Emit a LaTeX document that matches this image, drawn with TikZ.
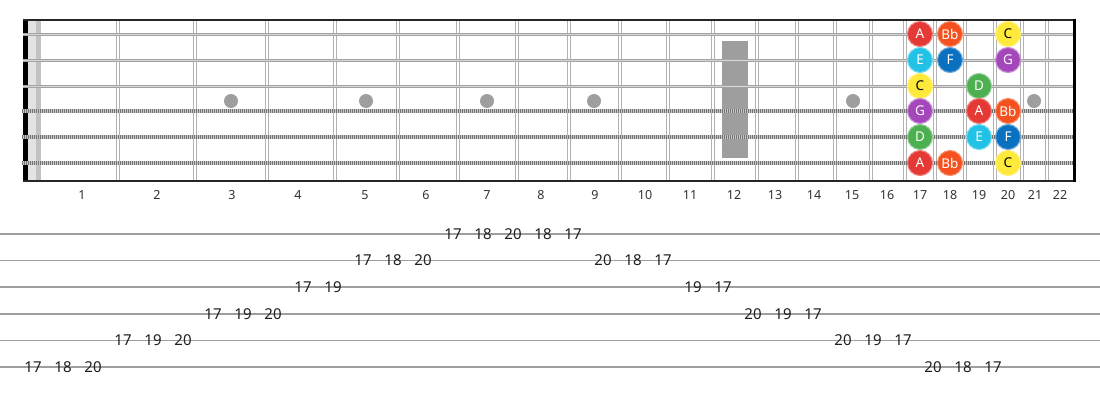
\documentclass[tikz,border=0pt]{standalone}
\usepackage{fontspec}
\setmainfont{Noto Sans}
\definecolor{nA}{HTML}{E53935}
\definecolor{nBb}{HTML}{F4511E}
\definecolor{nC}{HTML}{FFE93B}
\definecolor{nD}{HTML}{4CAF50}
\definecolor{nE}{HTML}{22C1E6}
\definecolor{nF}{HTML}{0A70C0}
\definecolor{nG}{HTML}{A347BA}
\begin{document}
\begin{tikzpicture}[x=1pt,y=-1pt,
  fretw/.style={draw=black!30,line width=1.2pt},
  plainstr/.style={line width=3pt,draw=black!36},
  plaincore/.style={line width=0.8pt,draw=black!16},
  woundbase/.style={line width=4pt,draw=black!22},
  woundtex/.style={line width=4pt,draw=black!55,dash pattern=on 0.9pt off 1.1pt},
  border/.style={line width=2.2pt,draw=black!85},
  inlay/.style={fill=black!38},
  fretlbl/.style={font=\fontsize{12.5}{13}\selectfont,text=black!80,inner sep=0pt},
  note/.style={circle,minimum size=25pt,inner sep=0pt,line width=1.1pt,
    font=\fontsize{13.5}{14}\selectfont,text=white},
  tabline/.style={line width=1.6pt,draw=black!38},
  tabnum/.style={font=\fontsize{15}{15}\selectfont,text=black!88,inner sep=0pt}]
\useasboundingbox (0,0) rectangle (1100,400);
\fill[white] (0,0) rectangle (1100,400);
% nut
\fill[black] (23,19) rectangle (28,181);
\fill[black!11] (28,19) rectangle (36,181);
\fill[black!24] (36,19) rectangle (41,181);
% fret wires
\foreach \x in {118,195,267,335,398,458,517,569,620,668,713,757,797,835,871,905,935,965,995,1022,1047}{
  \draw[fretw] (\x-1.4,20) -- (\x-1.4,180);
  \draw[fretw] (\x+1.4,20) -- (\x+1.4,180);
}
% inlays
\foreach \x in {231,366,487,594,853,1034}{\fill[inlay] (\x,101) circle (7);}
\fill[inlay] (722,41) rectangle (748,158);
% strings
\foreach \y in {34,60,86}{
  \draw[plainstr] (23,\y) -- (1074,\y);
  \draw[plaincore] (23,\y) -- (1074,\y);
}
\foreach \y in {111,137,163}{
  \draw[woundbase] (22,\y) -- (1074,\y);
  \draw[woundtex] (22,\y) -- (1074,\y);
}
% borders
\draw[border] (23,19.8) -- (1075,19.8);
\draw[border] (23,180.6) -- (1075,180.6);
\draw[line width=2.4pt,black] (1074.5,18.7) -- (1074.5,181.7);
% fret numbers
\foreach \n/\x in {1/82,2/157,3/232,4/298,5/365,6/426,7/487,8/541,9/595,10/645,11/690,12/734,13/775,14/814,15/852,16/887,17/920,18/950,19/979,20/1008,21/1035,22/1060}{
  \node[fretlbl] (fl\n) at (\x,195) {\n};
}
% notes
\node[note,fill=nA,draw=nA!65!white] (s1a) at (920,34) {A};
\node[note,fill=nBb,draw=nBb!65!white] (s1b) at (950,34) {Bb};
\node[note,fill=nC,draw=nC!70!white,text=black] (s1c) at (1008,34) {C};
\node[note,fill=nE,draw=nE!60!white] (s2e) at (920,60) {E};
\node[note,fill=nF,draw=nF!60!white] (s2f) at (950,60) {F};
\node[note,fill=nG,draw=nG!60!white] (s2g) at (1008,60) {G};
\node[note,fill=nC,draw=nC!70!white,text=black] (s3c) at (920,86) {C};
\node[note,fill=nD,draw=nD!60!white] (s3d) at (979,86) {D};
\node[note,fill=nG,draw=nG!60!white] (s4g) at (920,111) {G};
\node[note,fill=nA,draw=nA!65!white] (s4a) at (979,111) {A};
\node[note,fill=nBb,draw=nBb!65!white] (s4b) at (1008,111) {Bb};
\node[note,fill=nD,draw=nD!60!white] (s5d) at (920,137) {D};
\node[note,fill=nE,draw=nE!60!white] (s5e) at (979,137) {E};
\node[note,fill=nF,draw=nF!60!white] (s5f) at (1008,137) {F};
\node[note,fill=nA,draw=nA!65!white] (s6a) at (920,163) {A};
\node[note,fill=nBb,draw=nBb!65!white] (s6b) at (950,163) {Bb};
\node[note,fill=nC,draw=nC!70!white,text=black] (s6c) at (1008,163) {C};
% tab lines
\foreach \i in {1,...,6}{
  \draw[tabline] (0,{234+26.6*(\i-1)}) -- (1100,{234+26.6*(\i-1)});
}
% tab numbers: index/string/fret
\foreach \k/\s/\f in {0/6/17,1/6/18,2/6/20,3/5/17,4/5/19,5/5/20,6/4/17,7/4/19,8/4/20,9/3/17,10/3/19,11/2/17,12/2/18,13/2/20,14/1/17,15/1/18,16/1/20,17/1/18,18/1/17,19/2/20,20/2/18,21/2/17,22/3/19,23/3/17,24/4/20,25/4/19,26/4/17,27/5/20,28/5/19,29/5/17,30/6/20,31/6/18,32/6/17}{
  \node[tabnum] (t\k) at ({33+30*\k},{234+26.6*(\s-1)}) {\f};
}
\end{tikzpicture}
\end{document}
